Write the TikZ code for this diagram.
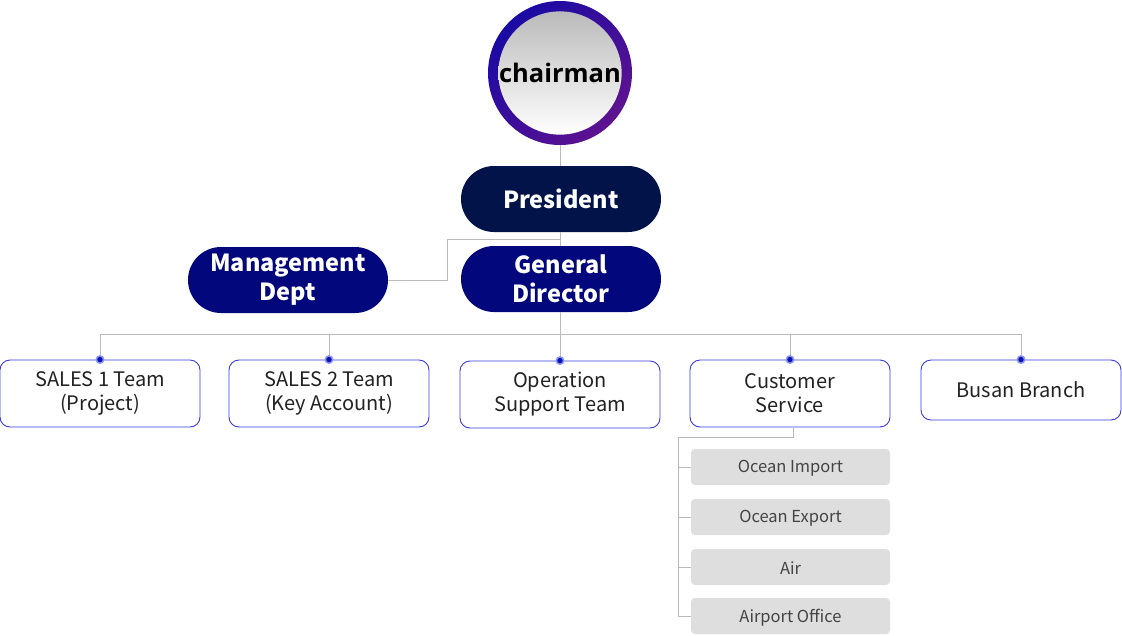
\documentclass[tikz,border=0pt]{standalone}
\usepackage{fontspec}
\setmainfont{Noto Sans CJK KR}
\newfontfamily\chfont{Open Sans}
\definecolor{presnavy}{HTML}{02134A}
\definecolor{gdnavy}{HTML}{03077C}
\definecolor{teamblue}{HTML}{3A3AE0}
\definecolor{textdark}{HTML}{222222}
\definecolor{subgray}{HTML}{DEDEDE}
\definecolor{subtext}{HTML}{444444}
\definecolor{linegray}{HTML}{BBBBBB}
\definecolor{ringA}{HTML}{1A0AA4}
\definecolor{ringB}{HTML}{5E1290}
\definecolor{dotcore}{HTML}{0A14B4}
\definecolor{dothalo}{HTML}{8C96F0}
\tikzset{
  pill/.style={rectangle, rounded corners=33pt, minimum width=200pt, minimum height=66pt,
    text=white, font=\bfseries\fontsize{23.5}{29}\selectfont, align=center, inner sep=0pt},
  team/.style={draw=teamblue, line width=0.9pt, rounded corners=10pt, fill=white,
    minimum width=200pt, minimum height=67pt, align=center, inner sep=0pt,
    font=\fontsize{20}{24}\selectfont, text=textdark},
  subbox/.style={fill=subgray, rounded corners=4pt, minimum width=199pt, minimum height=36pt,
    inner sep=0pt, font=\fontsize{16.5}{19}\selectfont, text=subtext},
  subtxt/.style={inner sep=0pt, font=\fontsize{16.5}{19}\selectfont, text=subtext},
  conn/.style={draw=linegray, line width=1pt},
}
\newcommand{\topdot}[1]{%
  \fill[dothalo] (#1) circle (4.5pt);
  \fill[dotcore] (#1) circle (2.7pt);}
\begin{document}
\begin{tikzpicture}[x=1pt,y=-1pt]
\useasboundingbox (0,0) rectangle (1122,635);
% chairman
\shade[left color=ringA, right color=ringB, shading angle=45] (560,73) circle (72pt);
\node[circle, minimum size=117pt, inner sep=0pt, top color=black!27, bottom color=white,
  font=\chfont\bfseries\fontsize{25.5}{30}\selectfont, text=black] (chair) at (560,73) {chairman};
\coordinate (chairbot) at (560,145);
% pills
\node[pill, fill=presnavy] (pres) at (561,199) {President};
\node[pill, fill=gdnavy] (gd) at (561,279) {General\\Director};
\node[pill, fill=gdnavy] (mgmt) at (288,280) {Management\\Dept};
% connectors top
\draw[conn] (chairbot) -- (pres.north -| chairbot);
\draw[conn] (pres.south -| chairbot) -- (gd.north -| chairbot);
\coordinate (j1) at (560,239);
\coordinate (j2) at (447,239);
\draw[conn] (j1) -- (j2) |- (mgmt.east);
% teams
\node[team] (s1) at (100,393.5) {SALES 1 Team\\(Project)};
\node[team] (s2) at (329,393.5) {SALES 2 Team\\(Key Account)};
\node[team] (op) at (560,394.5) {Operation\\Support Team};
\node[team] (cs) at (790,393.5) {Customer\\Service};
\node[team, minimum height=60pt] (bu) at (1021,390) {Busan Branch};
% bus
\coordinate (bus) at (560,334);
\draw[conn] (gd.south -| bus) -- (bus);
\draw[conn] (s1.north |- bus) -- (bu.north |- bus);
\foreach \n in {s1,s2,op,cs,bu}{
  \draw[conn] (\n.north |- bus) -- (\n.north);
}
\foreach \n in {s1,s2,op,cs,bu}{
  \topdot{\n.north}
}
% sub boxes
\node[subbox] (oi) at (790.5,467) {};
\node[subbox] (oe) at (790.5,517) {};
\node[subbox] (air) at (790.5,567) {};
\node[subbox] (ao) at (790.5,616) {};
\node[subtxt] (oit) at ([yshift=-1.5pt]oi.center) {Ocean Import};
\node[subtxt] (oet) at ([yshift=-1.5pt]oe.center) {Ocean Export};
\node[subtxt] (airt) at ([yshift=-1.5pt]air.center) {Air};
\node[subtxt] (aot) at ([yshift=-1.5pt]ao.center) {Airport Office};
\coordinate (csb) at (793,427);
\coordinate (csj) at (793,437);
\coordinate (vl) at (678,437);
\draw[conn] (csb) -- (csj) -- (vl) -- (vl |- ao.west);
\foreach \n in {oi,oe,air,ao}{
  \draw[conn] (vl |- \n.west) -- (\n.west);
}
\end{tikzpicture}
\end{document}
